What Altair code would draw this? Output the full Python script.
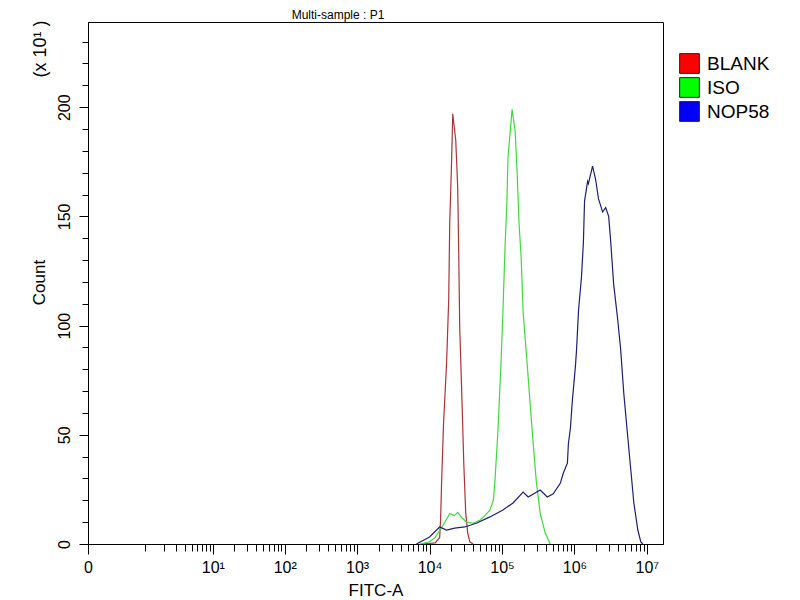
import altair as alt
import pandas as pd

# ---- data (FITC-A value, count in units of x10) ----
samples = ["BLANK", "ISO", "NOP58"]

blank_x = [8.0e3, 1.2e4, 1.38e4, 1.42e4, 1.47e4, 1.56e4, 1.72e4, 1.84e4, 1.90e4, 2.02e4,
           2.09e4, 2.30e4, 2.45e4, 2.53e4, 2.61e4, 2.78e4, 2.97e4, 3.16e4, 3.37e4, 3.59e4, 4.0e4]
blank_y = [0, 0.5, 3, 11, 29, 55, 83, 112, 147, 176,
           197, 185, 163, 133, 99, 70, 37, 14, 5, 1, 0]

iso_x = [7.3e3, 1.0e4, 1.2e4, 1.5e4, 1.9e4, 2.2e4, 2.45e4, 2.8e4, 3.27e4, 4.0e4,
         5.0e4, 5.8e4, 6.8e4, 7.6e4, 8.0e4, 8.8e4, 9.7e4, 1.03e5, 1.10e5, 1.17e5,
         1.21e5, 1.38e5, 1.52e5, 1.62e5, 1.72e5, 1.84e5, 1.96e5, 2.22e5, 2.61e5, 2.97e5,
         3.37e5, 3.95e5, 4.64e5]
iso_y = [0, 1, 3, 8, 14, 13, 14.5, 12, 10, 9.5,
         11, 13, 15.5, 20, 29, 52, 83, 106, 135, 157,
         177, 199, 189, 170, 147, 131, 106, 83, 52, 29,
         14, 5, 0]

nop_x = [6.6e3, 1.0e4, 1.38e4, 1.72e4, 2.22e4, 3.06e4, 4.5e4, 6.81e4, 1.03e5, 1.42e5,
         1.96e5, 2.30e5, 3.37e5, 4.22e5, 5.11e5, 6.4e5, 7.03e5, 8.0e5, 8.26e5, 8.8e5,
         9.38e5, 1.03e6, 1.07e6, 1.14e6, 1.25e6, 1.33e6, 1.38e6, 1.52e6, 1.56e6, 1.78e6,
         1.96e6, 2.15e6, 2.45e6, 2.70e6, 2.97e6, 3.16e6, 3.48e6, 3.95e6, 4.35e6, 4.80e6,
         5.45e6, 6.0e6, 6.6e6, 7.5e6, 8.26e6, 8.8e6]
nop_y = [0, 3.2, 7.8, 6.4, 7.3, 7.8, 9.6, 12.4, 15.6, 18.8,
         23.8, 21.5, 24.7, 21.5, 23, 27.9, 32.5, 37, 46, 53,
         66, 81, 89, 107, 122, 138, 157, 166, 165, 173,
         167, 158, 152, 154, 150, 139, 119, 103, 89, 69,
         49, 34, 19, 6.4, 0.9, 0]

line_colors = ["#a8343a", "#3fd83f", "#1e1e72"]
legend_colors = ["#ff0000", "#00ff00", "#0000ff"]

# axis tick values
x_ticks = [0.0] + [float(k * 10 ** d) for d in range(0, 7) for k in range(1, 10)] + [1.0e7]
y_ticks = list(range(0, 240, 10))
superscripts = ["\u2070", "\u00b9", "\u00b2", "\u00b3", "\u2074", "\u2075", "\u2076", "\u2077"]

chart_title = "Multi-sample : P1"
y_multiplier = "(x 10\u00b9 )"

rows = []
for name, xs, ys in [("BLANK", blank_x, blank_y), ("ISO", iso_x, iso_y), ("NOP58", nop_x, nop_y)]:
    for xv, yv in zip(xs, ys):
        rows.append({"sample": name, "fitc": xv, "count": yv})
df = pd.DataFrame(rows)

FONT = "Liberation Sans"

pow_test = ("datum.value >= 10 && "
            "abs(log(datum.value)/LN10 - round(log(datum.value)/LN10)) < 0.001")
major_test = "datum.value == 0 || (" + pow_test + ")"
sup_arr = "[" + ",".join("'" + s + "'" for s in superscripts) + "]"
x_label_expr = ("datum.value == 0 ? '0' : ((" + pow_test +
                ") ? '10' + " + sup_arr + "[round(log(datum.value)/LN10)] : '')")

x_axis = alt.Axis(
    values=x_ticks,
    labelExpr=x_label_expr,
    tickSize={"condition": {"test": major_test, "value": 10}, "value": 7},
    labelFlush=False,
    labelOverlap=False,
    labelFontSize=16,
    labelPadding=5,
    title="FITC-A",
    titleFontSize=17,
    titleFontWeight="normal",
    titleBaseline="alphabetic",
    titleY=51,
    grid=False,
)
y_axis = alt.Axis(
    values=y_ticks,
    labelExpr="datum.value % 50 == 0 ? datum.label : ''",
    tickSize={"condition": {"test": "datum.value % 50 == 0", "value": 9}, "value": 6},
    labelAngle=270,
    labelAlign="center",
    labelBaseline="bottom",
    labelPadding=7,
    labelFontSize=16,
    labelOverlap=False,
    labelFlush=False,
    title="Count",
    titleAngle=270,
    titleAlign="center",
    titleBaseline="middle",
    titleX=-49,
    titleY=260,
    titleFontSize=17,
    titleFontWeight="normal",
    grid=False,
)

x_scale = alt.Scale(type="symlog", constant=0.193, domain=[0, 1.67e7], nice=False)
y_scale = alt.Scale(domain=[0, 239], nice=False)

lines = alt.Chart(df).mark_line(strokeWidth=1.2).encode(
    x=alt.X("fitc:Q", scale=x_scale, axis=x_axis),
    y=alt.Y("count:Q", scale=y_scale, axis=y_axis),
    stroke=alt.Stroke("sample:N", scale=alt.Scale(range=line_colors), legend=None),
)

legend_layer = alt.Chart(df).mark_square(opacity=0).encode(
    x=alt.X("fitc:Q", scale=x_scale, axis=x_axis),
    y=alt.Y("count:Q", scale=y_scale, axis=y_axis),
    color=alt.Color(
        "sample:N",
        scale=alt.Scale(domain=samples, range=legend_colors),
        legend=alt.Legend(
            title=None,
            orient="none",
            legendX=591,
            legendY=31,
            symbolType="square",
            symbolSize=390,
            symbolStrokeColor="#222222",
            symbolStrokeWidth=1,
            symbolOpacity=1,
            labelFontSize=19,
            labelOffset=7,
            rowPadding=-1,
            padding=0,
        ),
    ),
)

note = alt.Chart(pd.DataFrame({"t": [y_multiplier]})).mark_text(
    angle=270, fontSize=18, align="center", baseline="middle", color="black"
).encode(x=alt.value(-47), y=alt.value(27), text="t:N")

title_text = alt.Chart(pd.DataFrame({"t": [chart_title]})).mark_text(
    fontSize=12, align="center", baseline="alphabetic", color="black"
).encode(x=alt.value(250), y=alt.value(-3), text="t:N")

chart = (
    alt.layer(lines, legend_layer, note, title_text)
    .properties(
        width=575,
        height=522,
        autosize=alt.AutoSizeParams(type="none"),
        padding={"left": 80, "top": 14, "right": 129, "bottom": 56},
    )
    .configure(font=FONT)
    .configure_view(stroke="black", strokeWidth=1)
    .configure_axis(domainColor="black", tickColor="black", labelColor="black",
                    titleColor="black", domainWidth=1, tickWidth=1)
    .configure_legend(labelColor="black")
)

chart.save("out.html", embed_options={"renderer": "svg", "actions": False})
